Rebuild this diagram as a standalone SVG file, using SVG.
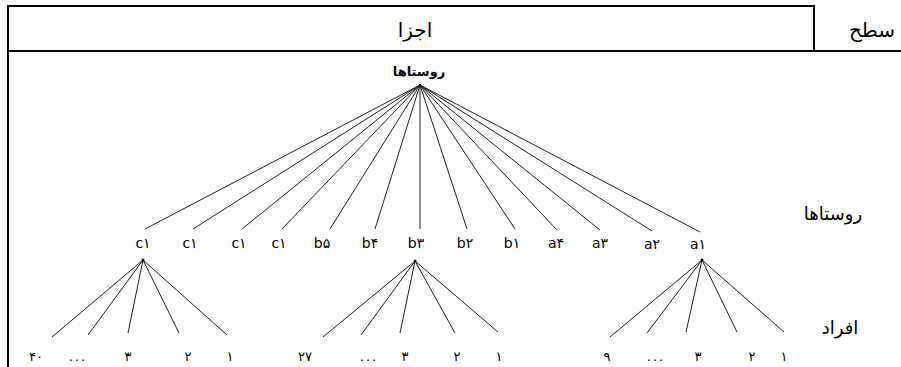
<svg xmlns="http://www.w3.org/2000/svg" width="901" height="367" viewBox="0 0 901 367">
<style>
.frame{stroke:#000;stroke-width:2;fill:none}
.edge{stroke:#222;stroke-width:1;fill:none}
.t{font-family:"DejaVu Sans",sans-serif;fill:#000;text-anchor:middle}
.hd{font-size:20px}
.lv{font-size:18px}
.lb{font-size:14px}
.nm{font-size:13px}
.dot{fill:#000}
</style>
<rect width="901" height="367" fill="#fff"/>
<g id="table">
<line class="frame" x1="7" y1="6" x2="815" y2="6"/>
<line class="frame" x1="8" y1="5" x2="8" y2="367"/>
<line class="frame" x1="7" y1="51" x2="901" y2="51"/>
<line class="frame" x1="814" y1="5" x2="814" y2="51"/>
<text class="t hd" x="415" y="37">اجزا</text>
<text class="t hd" x="872" y="37">سطح</text>
<text class="t lv" x="833" y="220">روستاها</text>
<text class="t lv" x="840" y="334">افراد</text>
</g>
<g id="connectors">
<path class="edge" d="M420 85L145 229M420 85L193 229M420 85L242 229M420 85L282 229M420 85L330 229M420 85L375 229M420 85L420 229M420 85L467 229M420 85L515 229M420 85L557 230M420 85L600 230M420 85L652 231M420 85L700 232"/>
<path class="edge" d="M143 260L52 337M143 260L88 335M143 260L128 333M143 260L179 333M143 260L227 335"/>
<path class="edge" d="M415 261L323 337M415 261L361 335M415 261L400 333M415 261L455 333M415 261L498 332"/>
<path class="edge" d="M702 260L610 337M702 260L647 333M702 260L686 332M702 260L737 332M702 260L784 332"/>
</g>
<g id="root"><text class="t" x="419" y="76" font-size="13" font-weight="bold">روستاها</text><circle class="dot" cx="420" cy="85" r="1.2"/></g>
<g id="c1a"><text class="t lb" x="143" y="248">c۱</text><circle class="dot" cx="143" cy="260" r="1.5"/></g>
<g id="c1b"><text class="t lb" x="190" y="248">c۱</text></g>
<g id="c1c"><text class="t lb" x="239" y="248">c۱</text></g>
<g id="c1d"><text class="t lb" x="279" y="248">c۱</text></g>
<g id="b5"><text class="t lb" x="322" y="248">b۵</text></g>
<g id="b4"><text class="t lb" x="370" y="248">b۴</text></g>
<g id="b3"><text class="t lb" x="416" y="248">b۳</text><circle class="dot" cx="415" cy="261" r="1.5"/></g>
<g id="b2"><text class="t lb" x="465" y="248">b۲</text></g>
<g id="b1"><text class="t lb" x="512" y="248">b۱</text></g>
<g id="a4"><text class="t lb" x="556" y="248">a۴</text></g>
<g id="a3"><text class="t lb" x="600" y="248">a۳</text></g>
<g id="a2"><text class="t lb" x="652" y="249">a۲</text></g>
<g id="a1"><text class="t lb" x="698" y="249">a۱</text><circle class="dot" cx="702" cy="260" r="1.5"/></g>
<g id="s1">
<text class="t nm" x="36" y="361">۴۰</text>
<text class="t nm" x="78" y="361" letter-spacing="2">...</text>
<text class="t nm" x="128" y="361">۳</text>
<text class="t nm" x="188" y="361">۲</text>
<text class="t nm" x="230" y="361">۱</text>
</g>
<g id="s2">
<text class="t nm" x="305" y="361">۲۷</text>
<text class="t nm" x="369" y="361" letter-spacing="2">...</text>
<text class="t nm" x="405" y="361">۳</text>
<text class="t nm" x="457" y="361">۲</text>
<text class="t nm" x="499" y="361">۱</text>
</g>
<g id="s3">
<text class="t nm" x="607" y="361">۹</text>
<text class="t nm" x="656" y="361" letter-spacing="2">...</text>
<text class="t nm" x="698" y="361">۳</text>
<text class="t nm" x="752" y="361">۲</text>
<text class="t nm" x="784" y="361">۱</text>
</g>
</svg>
